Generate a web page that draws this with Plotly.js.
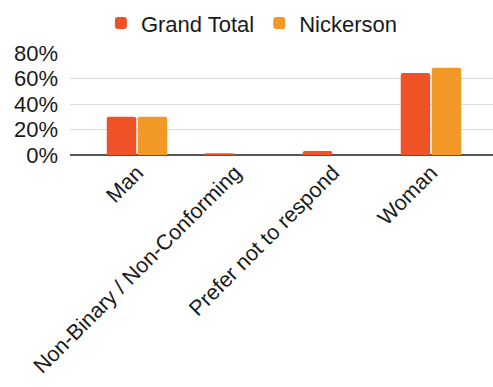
<!DOCTYPE html>
<html>
<head>
<meta charset="utf-8">
<script src="https://cdn.plot.ly/plotly-3.0.1.min.js"></script>
<style>
  html, body { margin: 0; padding: 0; background: #fff; }
  #chart { width: 493px; height: 387px; }
</style>
</head>
<body>
<div id="chart"></div>
<script>
// Gender breakdown: share of respondents per category
const categories = ["Man", "Non-Binary / Non-Conforming", "Prefer not to respond", "Woman"];
const grandTotal = [0.30, 0.013, 0.031, 0.643];
const nickerson = [0.30, 0, 0, 0.685];
const yTicks = [0, 0.2, 0.4, 0.6, 0.8];

const font = "Arial, 'Liberation Sans', sans-serif";

const traces = [
  {
    type: "bar",
    name: "Grand Total",
    x: categories,
    y: grandTotal,
    marker: { color: "#EF5227", cornerradius: 2 },
    hoverinfo: "skip"
  },
  {
    type: "bar",
    name: "Nickerson",
    x: categories,
    y: nickerson,
    marker: { color: "#F19826", cornerradius: 2 },
    hoverinfo: "skip"
  }
];

const layout = {
  width: 493,
  height: 387,
  margin: { l: 70, r: 0, t: 53, b: 232 },
  paper_bgcolor: "#fff",
  plot_bgcolor: "#fff",
  font: { family: font, color: "#1a1a1a", size: 21 },
  barmode: "group",
  bargap: 0.367,
  bargroupgap: 0.05,
  showlegend: true,
  legend: {
    orientation: "h",
    x: 0.43,
    xanchor: "center",
    yref: "container",
    y: 0.94,
    yanchor: "middle",
    font: { family: font, size: 22, color: "#1a1a1a" },
    itemwidth: 30
  },
  xaxis: {
    type: "category",
    range: [-0.684, 3.633],
    tickangle: -45,
    tickfont: { family: font, size: 21.5, color: "#1a1a1a" },
    showgrid: false,
    showline: false,
    ticks: "",
    fixedrange: true
  },
  yaxis: {
    range: [0, 0.8],
    tickvals: yTicks,
    tickformat: ".0%",
    tickfont: { family: font, size: 22, color: "#1a1a1a" },
    showgrid: true,
    gridcolor: "#d9d9d9",
    gridwidth: 1,
    zeroline: true,
    zerolinecolor: "#555",
    zerolinewidth: 1.5,
    ticks: "",
    ticklabelstandoff: 11,
    fixedrange: true
  }
};

Plotly.newPlot("chart", traces, layout, { displayModeBar: false, staticPlot: true });
</script>
</body>
</html>
